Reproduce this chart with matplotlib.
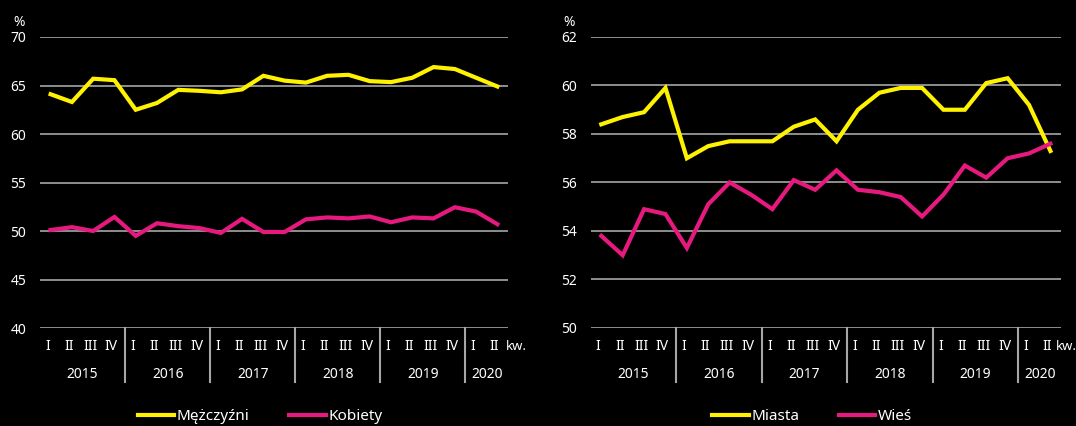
import matplotlib
matplotlib.use('Agg')
import matplotlib.pyplot as plt
from matplotlib.lines import Line2D
from matplotlib.transforms import offset_copy

plt.rcParams['font.family'] = ['Noto Sans', 'DejaVu Sans']

# quarters 2015 I .. 2020 II
quarters = ['I', 'II', 'III', 'IV'] * 5 + ['I', 'II']
years = ['2015', '2016', '2017', '2018', '2019', '2020']
year_sizes = [4, 4, 4, 4, 4, 2]

men = [64.1, 63.3, 65.7, 65.55, 62.5, 63.2, 64.55, 64.45, 64.3, 64.6, 66.0,
       65.5, 65.3, 66.0, 66.1, 65.45, 65.35, 65.8, 66.9, 66.7, 65.8, 64.9]
women = [50.1, 50.4, 50.0, 51.45, 49.5, 50.8, 50.5, 50.3, 49.8, 51.25, 49.9,
         49.9, 51.2, 51.4, 51.3, 51.5, 50.9, 51.4, 51.3, 52.45, 52.0, 50.7]
cities = [58.4, 58.7, 58.9, 59.9, 57.0, 57.5, 57.7, 57.7, 57.7, 58.3, 58.6,
          57.7, 59.0, 59.7, 59.9, 59.9, 59.0, 59.0, 60.1, 60.3, 59.2, 57.3]
rural = [53.8, 53.0, 54.9, 54.7, 53.3, 55.1, 56.0, 55.5, 54.9, 56.1, 55.7,
         56.5, 55.7, 55.6, 55.4, 54.6, 55.5, 56.7, 56.2, 57.0, 57.2, 57.6]

YELLOW = '#FFF200'
PINK = '#E6197F'
GRID = '#A6A6A6'
BG = 'black'
FS = 10

W, H = 1076, 426
fig = plt.figure(figsize=(W / 100, H / 100), dpi=100, facecolor=BG)


def draw_panel(rect, s1, s2, names, yticks, leg_x, kw_dx):
    ax = fig.add_axes(rect, facecolor=BG)
    x = list(range(len(quarters)))
    ax.plot(x, s1, color=YELLOW, lw=3, solid_joinstyle='miter', zorder=3)
    ax.plot(x, s2, color=PINK, lw=3, solid_joinstyle='miter', zorder=3)
    ax.set_xlim(-0.5, len(quarters) - 0.5)
    ax.set_ylim(yticks[0], yticks[-1])
    ax.set_yticks(yticks)
    ax.yaxis.grid(True, color=GRID, lw=1.2)
    ax.set_axisbelow(True)
    for sp in ax.spines.values():
        sp.set_visible(False)
    ax.tick_params(axis='y', length=0, labelsize=FS, labelcolor='white', pad=10)
    ax.set_xticks([])
    ax.text(-0.045, 1.025, '%', transform=ax.transAxes, color='white',
            fontsize=FS, ha='center', va='bottom')

    # category axis: quarters, years and separators
    bt = ax.get_xaxis_transform()
    qt = offset_copy(bt, fig=fig, x=-3, y=0, units='dots')
    px = 1.0 / (rect[3] * H)  # axes fraction per pixel
    for i, q in enumerate(quarters):
        ax.text(i, -18 * px, q, transform=qt, color='white', fontsize=FS,
                ha='center', va='center', clip_on=False)
    kt = offset_copy(bt, fig=fig, x=kw_dx, y=0, units='dots')
    ax.text(len(quarters) - 1, -18 * px, 'kw.', transform=kt,
            color='white', fontsize=9.5, ha='left', va='center', clip_on=False)
    start = 0
    for yr, n in zip(years, year_sizes):
        ax.text(start + (n - 1) / 2, -47 * px, yr, transform=bt, color='white',
                fontsize=FS, ha='center', va='center', clip_on=False)
        if start > 0:
            ax.add_line(Line2D([start - 0.5, start - 0.5], [0, -54 * px],
                               transform=bt, color=GRID, lw=1.5,
                               clip_on=False))
        start += n

    handles = [Line2D([], [], color=YELLOW, lw=3),
               Line2D([], [], color=PINK, lw=3)]
    fig.legend(handles, names, loc='center', bbox_to_anchor=(leg_x, 1 - 417 / H),
               ncol=2, frameon=False, fontsize=11, labelcolor='white',
               handlelength=2.4, handletextpad=0.15, columnspacing=2.6)
    return ax


draw_panel([40 / W, 1 - 328 / H, 468 / W, 291 / H], men, women,
           ['Mężczyźni', 'Kobiety'], [40, 45, 50, 55, 60, 65, 70], 260 / W, 9)
draw_panel([590.6 / W, 1 - 328 / H, 470.5 / W, 291 / H], cities, rural,
           ['Miasta', 'Wieś'], [50, 52, 54, 56, 58, 60, 62], 812 / W, 5)

fig.savefig('out.png', dpi=100, facecolor=BG)
